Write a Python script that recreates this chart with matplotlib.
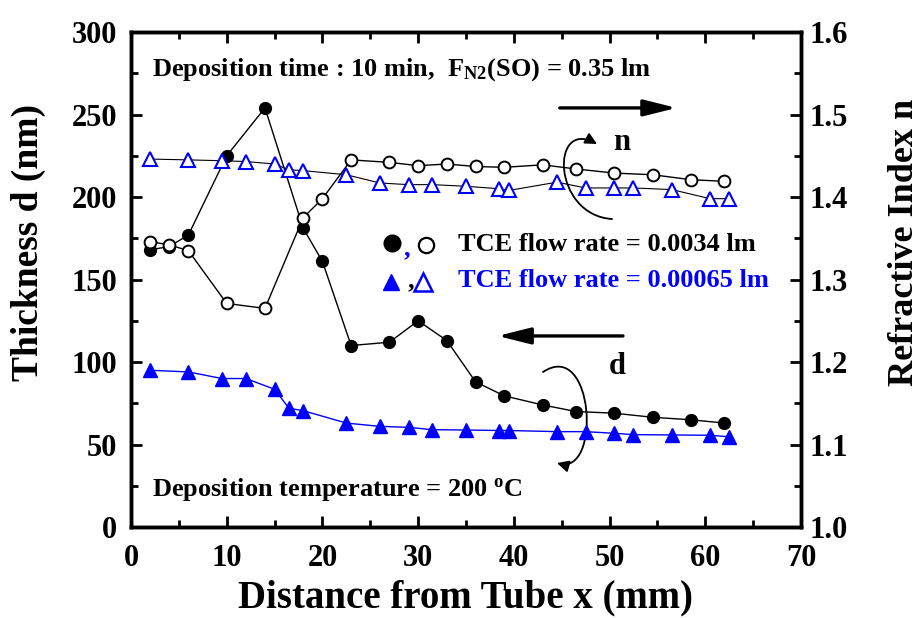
import matplotlib
matplotlib.use("Agg")
import matplotlib.pyplot as plt
from matplotlib.patches import FancyArrowPatch
from matplotlib.path import Path
from matplotlib.ticker import MultipleLocator

plt.rcParams["font.family"] = ["Liberation Serif", "DejaVu Serif"]
plt.rcParams["font.weight"] = "bold"
plt.rcParams["axes.labelweight"] = "bold"
plt.rcParams["mathtext.fontset"] = "custom"
plt.rcParams["mathtext.rm"] = "Liberation Serif:bold"
plt.rcParams["mathtext.bf"] = "Liberation Serif:bold"
plt.rcParams["mathtext.it"] = "Liberation Serif:bold"

# TCE flow rate = 0.0034 lm
x_d1 = [2, 4, 6, 10, 14, 18, 20, 23, 27, 30, 33, 36, 39, 43, 46.5, 50.5, 54.5, 58.5, 62]
d1 = [168, 170, 177, 225, 254, 181, 161, 110, 112, 125, 113, 88, 79.5, 74, 70, 69, 66.5, 65, 63]
x_n1 = [2, 4, 6, 10, 14, 18, 20, 23, 27, 30, 33, 36, 39, 43, 46.5, 50.5, 54.5, 58.5, 62]
n1 = [1.346, 1.342, 1.335, 1.271, 1.265, 1.375, 1.398, 1.445, 1.442, 1.438, 1.440, 1.437,
      1.436, 1.439, 1.434, 1.429, 1.427, 1.421, 1.419]

# TCE flow rate = 0.00065 lm
x_2 = [2, 6, 9.5, 12, 15, 16.5, 18, 22.5, 26, 29, 31.5, 35, 38.5, 39.5, 44.5, 47.5, 50.5,
       52.5, 56.5, 60.5, 62.5]
d2 = [95, 94, 90, 90, 83.5, 72, 70.5, 63, 61, 60.4, 59, 58.8, 58.5, 58.5, 57.8, 57.8, 56.8,
      56, 55.8, 55.6, 54.7]
n2 = [1.446, 1.445, 1.444, 1.443, 1.440, 1.433, 1.432, 1.427, 1.417, 1.415, 1.415, 1.413,
      1.410, 1.408, 1.418, 1.411, 1.411, 1.411, 1.409, 1.398, 1.398]

BLUE = "#0000ff"

fig = plt.figure(figsize=(9.21, 6.18), dpi=100)
ax = fig.add_axes([0.1422, 0.1472, 0.7275, 0.801])
ax2 = ax.twinx()

ax.plot(x_d1, d1, "-", color="black", lw=1, marker="o", ms=8.5, mfc="black", mec="black", zorder=3)
ax.plot(x_2, d2, "-", color=BLUE, lw=1, marker="^", ms=10.5, mfc=BLUE, mec=BLUE, zorder=3)
ax2.plot(x_n1, n1, "-", color="black", lw=1, marker="o", ms=8.5, mfc="white", mec="black", mew=1.4, zorder=3)
ax2.plot(x_2, n2, "-", color="black", lw=0.8, marker="^", ms=10.5, mfc="white", mec=BLUE, mew=1.5, zorder=3)

ax.set_xlim(0, 70)
ax.set_ylim(0, 300)
ax2.set_ylim(1.0, 1.6)
ax.xaxis.set_major_locator(MultipleLocator(10))
ax.xaxis.set_minor_locator(MultipleLocator(5))
ax.yaxis.set_major_locator(MultipleLocator(50))
ax.yaxis.set_minor_locator(MultipleLocator(25))
ax2.yaxis.set_minor_locator(MultipleLocator(0.05))
ax2.set_yticks([1.0, 1.1, 1.2, 1.3, 1.4, 1.5, 1.6])
ax2.set_yticklabels(["1.0", "1.1", "1.2", "1.3", "1.4", "1.5", "1.6"])

for a in (ax, ax2):
    for s in a.spines.values():
        s.set_linewidth(2.5)
ax.tick_params(which="both", direction="in", top=True, right=False, width=2, labelsize=22)
ax.tick_params(axis="x", pad=12)
ax.tick_params(axis="y", pad=10)
ax.tick_params(which="major", length=8)
ax.tick_params(which="minor", length=5)
ax2.tick_params(which="both", direction="in", width=2, labelsize=22, pad=6)
ax2.tick_params(which="major", length=8)
ax2.tick_params(which="minor", length=5)

ax.set_xlabel("Distance from Tube x (mm)", fontsize=28, labelpad=5)
ax.set_ylabel("Thickness d (nm)", fontsize=27, labelpad=18, y=0.575)
ax2.set_ylabel("Refractive Index n", fontsize=26, labelpad=29, y=0.575)

ax.text(2.2, 277, r"Deposition time : 10 min,  F$_{\mathrm{N2}}$(SO) = 0.35 lm", fontsize=19, va="center")
ax.text(2.2, 23, r"Deposition temperature = 200 $^{\mathrm{o}}$C", fontsize=19, va="center")

# legend built by hand
ax.plot([0.389], [0.573], marker="o", ms=12, color="black", transform=ax.transAxes)
ax.text(0.412, 0.562, ",", color=BLUE, fontsize=19, transform=ax.transAxes, ha="center", va="center")
ax.plot([0.441], [0.570], marker="o", ms=11, mfc="white", mec="black", mew=1.6, transform=ax.transAxes)
ax.text(0.488, 0.570, "TCE flow rate = 0.0034 lm", fontsize=19, transform=ax.transAxes, va="center")
ax.plot([0.388], [0.496], marker="^", ms=12, color=BLUE, transform=ax.transAxes)
ax.text(0.418, 0.497, ",", color="black", fontsize=19, transform=ax.transAxes, ha="center", va="center")
ax.plot([0.436], [0.496], marker="^", ms=13, mfc="white", mec=BLUE, mew=1.8, transform=ax.transAxes)
ax.text(0.488, 0.499, "TCE flow rate = 0.00065 lm", fontsize=19, color=BLUE, transform=ax.transAxes, va="center")

# straight arrows and labels
head = "-|>,head_length=2.0,head_width=0.5"
ax.annotate("", xy=(57.0, 254), xytext=(44.8, 254),
            arrowprops=dict(arrowstyle=head, color="black", lw=2.4, shrinkA=0, shrinkB=0))
ax.annotate("", xy=(38.3, 115.8), xytext=(51.4, 115.8),
            arrowprops=dict(arrowstyle=head, color="black", lw=2.4, shrinkA=0, shrinkB=0))
ax.text(51.3, 233, "n", fontsize=22, ha="center", va="center")
ax.text(50.8, 97, "d", fontsize=22, ha="center", va="center")


def px(xp, yp):
    return ((xp - 131) / 9.571, (527 - yp) / 1.65)


# curved arrows
n_curve = Path([px(612, 219), px(552, 215), px(550, 118), px(597, 144)],
               [Path.MOVETO, Path.CURVE4, Path.CURVE4, Path.CURVE4])
d_curve = Path([px(543, 372), px(594, 338), px(602, 476), px(557, 463)],
               [Path.MOVETO, Path.CURVE4, Path.CURVE4, Path.CURVE4])
for p in (n_curve, d_curve):
    ax.add_patch(FancyArrowPatch(path=p, arrowstyle="-|>,head_length=7,head_width=3.5",
                                 color="black", lw=1.3, transform=ax.transData))

fig.savefig("out.png", dpi=100)
